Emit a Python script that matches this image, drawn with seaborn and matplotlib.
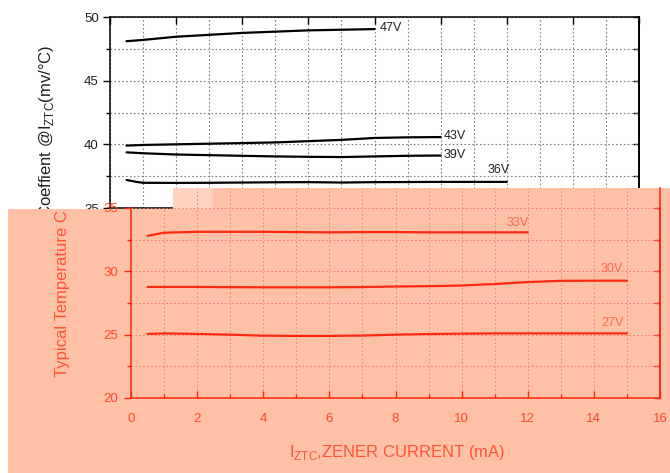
import matplotlib
matplotlib.use('Agg')
import pandas as pd
import matplotlib.pyplot as plt
import seaborn as sns
from matplotlib.patches import Rectangle
from matplotlib.ticker import MultipleLocator, NullLocator
from matplotlib.transforms import Bbox, TransformedBbox

# ---- data ----
# upper (black) panel: zener current (mA) vs temperature coefficient (mV/C)
i_47 = [0.5, 1, 2, 3, 4, 5, 6, 7, 8]
t_47 = [48.1, 48.2, 48.45, 48.6, 48.75, 48.85, 48.95, 49.0, 49.05]
i_43 = [0.5, 1, 2, 3, 4, 5, 6, 7, 8, 9, 10]
t_43 = [39.9, 39.95, 40.0, 40.05, 40.1, 40.15, 40.25, 40.35, 40.5, 40.55, 40.57]
i_39 = [0.5, 1, 2, 3, 4, 5, 6, 7, 8, 9, 10]
t_39 = [39.37, 39.3, 39.2, 39.15, 39.1, 39.05, 39.02, 39.0, 39.05, 39.1, 39.12]
i_36 = [0.5, 0.8, 1, 2, 3, 4, 5, 6, 7, 8, 9, 10, 11, 12]
t_36 = [37.2, 37.05, 36.98, 36.97, 36.98, 37.0, 37.02, 37.03, 37.0, 37.03, 37.04, 37.05, 37.05, 37.05]

# lower (red) panel
i_33 = [0.5, 0.8, 1, 2, 3, 4, 5, 6, 7, 8, 9, 10, 11, 12]
t_33 = [32.8, 32.95, 33.05, 33.12, 33.12, 33.12, 33.1, 33.08, 33.1, 33.1, 33.08, 33.08, 33.08, 33.08]
i_30 = [0.5, 1, 2, 3, 4, 5, 6, 7, 8, 9, 10, 11, 12, 13, 14, 15]
t_30 = [28.77, 28.77, 28.77, 28.75, 28.74, 28.74, 28.74, 28.76, 28.8, 28.83, 28.88, 29.0, 29.15, 29.25, 29.26, 29.26]
i_27 = [0.5, 1, 2, 3, 4, 5, 6, 7, 8, 9, 10, 11, 12, 13, 14, 15]
t_27 = [25.06, 25.1, 25.06, 25.0, 24.92, 24.9, 24.9, 24.93, 25.0, 25.05, 25.08, 25.1, 25.1, 25.1, 25.1, 25.1]

top_names = ['47V', '43V', '39V', '36V']
bot_names = ['33V', '30V', '27V']
top_label_pos = {'47V': (8.15, 49.1, 'left'), '43V': (10.1, 40.62, 'left'),
                 '39V': (10.1, 39.2, 'left'), '36V': (11.76, 38.0, 'center')}
bot_label_pos = {'33V': (11.7, 33.85), '30V': (14.55, 30.15), '27V': (14.55, 25.9)}

top_df = pd.concat([
    pd.DataFrame({'I': i, 'T': t, 'V': v})
    for v, i, t in zip(top_names, [i_47, i_43, i_39, i_36], [t_47, t_43, t_39, t_36])
])
bot_df = pd.concat([
    pd.DataFrame({'I': i, 'T': t, 'V': v})
    for v, i, t in zip(bot_names, [i_33, i_30, i_27], [t_33, t_30, t_27])
])

SALMON = '#FFC0A8'
RED = '#FF2A10'
RED_TXT = '#FF4A2C'
RED_GRID = '#F27A66'

sns.set_theme(style='white')
plt.rcParams['font.family'] = ['Liberation Sans', 'DejaVu Sans']

W, H = 670, 473
fig = plt.figure(figsize=(W / 100, H / 100), dpi=100)
fig.patch.set_facecolor('white')


def box(l, t, r, b):
    return [l / W, 1 - b / H, (r - l) / W, (b - t) / H]


# ---- upper black chart ----
ax_top = fig.add_axes(box(110, 17, 639, 208), zorder=0)
sns.lineplot(data=top_df, x='I', y='T', hue='V', hue_order=top_names,
             palette={n: 'black' for n in top_names}, legend=False,
             linewidth=1.6, errorbar=None, ax=ax_top)
ax_top.set_xlim(0, 16)
ax_top.set_ylim(35, 50)
ax_top.xaxis.set_major_locator(MultipleLocator(2))
ax_top.xaxis.set_minor_locator(MultipleLocator(1))
ax_top.yaxis.set_major_locator(MultipleLocator(5))
ax_top.yaxis.set_minor_locator(MultipleLocator(2.5))
ax_top.grid(which='both', linestyle=(0, (1.5, 2)), color='#808080', linewidth=0.8)
ax_top.tick_params(axis='x', which='major', top=True, bottom=False, direction='in',
                   length=5, width=1, color='black', labelbottom=False)
ax_top.tick_params(axis='x', which='minor', length=0)
ax_top.tick_params(axis='y', which='major', left=True, direction='out', length=5,
                   width=1, color='black', labelsize=9.5, labelcolor='#222222', pad=3)
ax_top.tick_params(axis='y', which='minor', left=True, direction='out', length=3,
                   width=1, color='black')
for s in ax_top.spines.values():
    s.set_color('black')
    s.set_linewidth(1.1)
ax_top.set_xlabel('')
ax_top.set_ylabel('')
sec_top = ax_top.secondary_yaxis('right')
sec_top.yaxis.set_major_locator(MultipleLocator(2.5))
sec_top.tick_params(direction='in', length=4, width=1, color='black', labelright=False)
sec_top.spines['right'].set_color('black')
for name in top_names:
    x, y, ha = top_label_pos[name]
    ax_top.text(x, y, name, fontsize=9, color='#222222', ha=ha, va='center')

# visible upper part of the black y title (its start is hidden by the overlay)
fig.text(47 / W, 1 - 45 / H, r'Coeffient @I$_{\mathregular{ZTC}}$(mv/°C)',
         rotation=90, rotation_mode='anchor', ha='right', va='center',
         fontsize=12, color='#222222', zorder=0.5)

# ---- salmon overlay ----
fig.add_artist(Rectangle((8 / W, 0), 1, 1 - 209 / H, transform=fig.transFigure,
                         facecolor=SALMON, edgecolor='none', zorder=1))
fig.add_artist(Rectangle((173 / W, 1 - 209 / H), 1, 21 / H, transform=fig.transFigure,
                         facecolor=SALMON, edgecolor='none', zorder=1))
fig.add_artist(Rectangle((173 / W, 1 - 209 / H), 40 / W, 21 / H, transform=fig.transFigure,
                         facecolor='#FFD2C0', edgecolor='none', zorder=1))

# ---- lower red chart ----
ax_bot = fig.add_axes(box(131, 208, 660, 398), zorder=2)
ax_bot.patch.set_alpha(0)
sns.lineplot(data=bot_df, x='I', y='T', hue='V', hue_order=bot_names,
             palette={n: RED for n in bot_names}, legend=False,
             linewidth=1.6, errorbar=None, ax=ax_bot)
ax_bot.set_xlim(0, 16)
ax_bot.set_ylim(20, 35)
ax_bot.xaxis.set_major_locator(MultipleLocator(2))
ax_bot.xaxis.set_minor_locator(MultipleLocator(1))
ax_bot.yaxis.set_major_locator(MultipleLocator(5))
ax_bot.yaxis.set_minor_locator(MultipleLocator(2.5))
ax_bot.grid(which='both', linestyle=(0, (1.5, 2.5)), color=RED_GRID, linewidth=0.7)
ax_bot.tick_params(axis='x', which='major', bottom=True, direction='in', length=5,
                   width=1, color=RED, labelsize=9.5, labelcolor=RED_TXT, pad=11)
ax_bot.tick_params(axis='x', which='minor', bottom=True, direction='in', length=3,
                   width=1, color=RED)
ax_bot.tick_params(axis='y', which='major', left=True, direction='out', length=5,
                   width=1, color=RED, labelsize=9.5, labelcolor=RED_TXT, pad=4)
ax_bot.tick_params(axis='y', which='minor', left=True, direction='out', length=3,
                   width=1, color=RED)
ax_bot.spines['top'].set_visible(False)
for side in ['left', 'bottom', 'right']:
    ax_bot.spines[side].set_color(RED)
    ax_bot.spines[side].set_linewidth(1.1)
ax_bot.set_xlabel('')
ax_bot.set_ylabel('')
sec_bot = ax_bot.secondary_yaxis('right')
sec_bot.yaxis.set_major_locator(MultipleLocator(2.5))
sec_bot.tick_params(direction='in', length=4, width=1, color=RED, labelright=False)
sec_bot.spines['right'].set_color(RED)
for name in bot_names:
    x, y = bot_label_pos[name]
    ax_bot.text(x, y, name, fontsize=9, color='#FF6A50', ha='center', va='center')

# thin strip above the lower chart (right part that shows through)
ax_strip = fig.add_axes(box(173, 188, 660, 208), zorder=2)
ax_strip.patch.set_alpha(0)
ax_strip.set_xlim(42 / 529 * 16, 16)
ax_strip.set_ylim(0, 1)
ax_strip.xaxis.set_major_locator(MultipleLocator(1))
ax_strip.yaxis.set_major_locator(NullLocator())
ax_strip.grid(axis='x', linestyle=(0, (1.5, 2.5)), color=RED_GRID, linewidth=0.7)
ax_strip.tick_params(length=0, labelbottom=False, labelleft=False)
for side in ['left', 'bottom', 'top']:
    ax_strip.spines[side].set_visible(False)
ax_strip.spines['right'].set_color(RED)
ax_strip.spines['right'].set_linewidth(1.1)

# axis titles of the lower chart
fig.text(397 / W, 1 - 452 / H, r'I$_{\mathregular{ZTC}}$,ZENER CURRENT (mA)',
         ha='center', va='center', fontsize=12, color='#FF5536', zorder=3)
ylab = fig.text(62 / W, 1 - 377 / H, 'Typical Temperature C',
                rotation=90, rotation_mode='anchor', ha='left', va='center',
                fontsize=12, color='#FF5536', zorder=3)
ylab.set_clip_on(True)
ylab.set_clip_box(TransformedBbox(Bbox([[0, 0], [1, 1 - 209 / H]]), fig.transFigure))

fig.savefig('out.png', dpi=100)
